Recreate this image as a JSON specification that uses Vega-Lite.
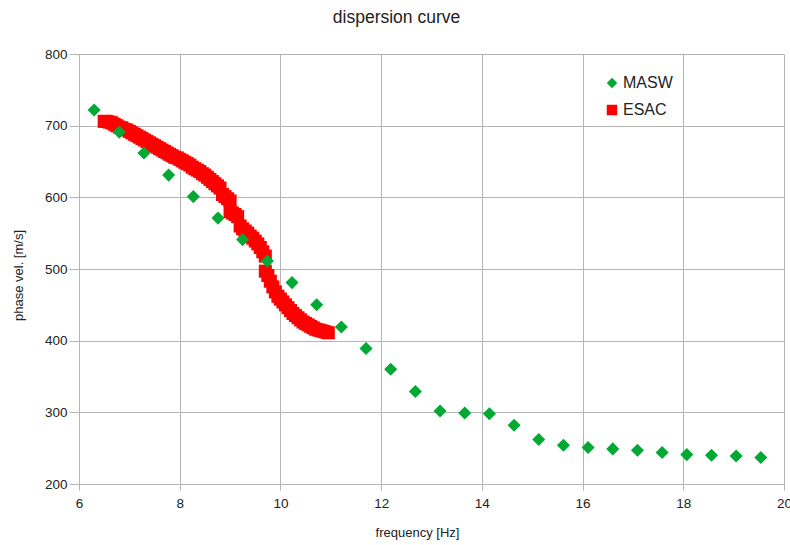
{
  "$schema": "https://vega.github.io/schema/vega-lite/v6.json",
  "width": 705,
  "height": 430,
  "autosize": {"type": "none"},
  "padding": {"left": 79, "top": 54, "right": 6, "bottom": 61},
  "background": "white",
  "title": {"text": "dispersion curve", "fontSize": 17.5, "font": "Liberation Sans", "fontWeight": "normal", "color": "#222222", "anchor": "middle", "dx": -35, "offset": 21},
  "config": {"view": {"stroke": null}, "font": "Liberation Sans"},
  "data": {"values": [
    {"method": "ESAC", "f": 6.50, "v": 706}, {"method": "ESAC", "f": 6.55, "v": 706}, {"method": "ESAC", "f": 6.60, "v": 705}, {"method": "ESAC", "f": 6.65, "v": 704},
    {"method": "ESAC", "f": 6.70, "v": 702}, {"method": "ESAC", "f": 6.75, "v": 700}, {"method": "ESAC", "f": 6.80, "v": 698}, {"method": "ESAC", "f": 6.85, "v": 697},
    {"method": "ESAC", "f": 6.90, "v": 695}, {"method": "ESAC", "f": 6.95, "v": 694}, {"method": "ESAC", "f": 7.00, "v": 692}, {"method": "ESAC", "f": 7.05, "v": 690},
    {"method": "ESAC", "f": 7.10, "v": 688}, {"method": "ESAC", "f": 7.15, "v": 686}, {"method": "ESAC", "f": 7.20, "v": 684}, {"method": "ESAC", "f": 7.25, "v": 682},
    {"method": "ESAC", "f": 7.30, "v": 680}, {"method": "ESAC", "f": 7.35, "v": 678}, {"method": "ESAC", "f": 7.40, "v": 676}, {"method": "ESAC", "f": 7.45, "v": 674},
    {"method": "ESAC", "f": 7.50, "v": 672}, {"method": "ESAC", "f": 7.55, "v": 670}, {"method": "ESAC", "f": 7.60, "v": 668}, {"method": "ESAC", "f": 7.65, "v": 666},
    {"method": "ESAC", "f": 7.70, "v": 664}, {"method": "ESAC", "f": 7.75, "v": 662}, {"method": "ESAC", "f": 7.80, "v": 660}, {"method": "ESAC", "f": 7.85, "v": 658},
    {"method": "ESAC", "f": 7.90, "v": 656}, {"method": "ESAC", "f": 7.95, "v": 655}, {"method": "ESAC", "f": 8.00, "v": 653}, {"method": "ESAC", "f": 8.05, "v": 651},
    {"method": "ESAC", "f": 8.10, "v": 649}, {"method": "ESAC", "f": 8.15, "v": 647}, {"method": "ESAC", "f": 8.20, "v": 645}, {"method": "ESAC", "f": 8.25, "v": 642},
    {"method": "ESAC", "f": 8.30, "v": 640}, {"method": "ESAC", "f": 8.35, "v": 638}, {"method": "ESAC", "f": 8.40, "v": 636}, {"method": "ESAC", "f": 8.45, "v": 633},
    {"method": "ESAC", "f": 8.50, "v": 631}, {"method": "ESAC", "f": 8.55, "v": 628}, {"method": "ESAC", "f": 8.60, "v": 625}, {"method": "ESAC", "f": 8.65, "v": 622},
    {"method": "ESAC", "f": 8.70, "v": 619}, {"method": "ESAC", "f": 8.75, "v": 616}, {"method": "ESAC", "f": 8.80, "v": 613}, {"method": "ESAC", "f": 8.85, "v": 604},
    {"method": "ESAC", "f": 8.90, "v": 601}, {"method": "ESAC", "f": 8.95, "v": 598}, {"method": "ESAC", "f": 9.00, "v": 595}, {"method": "ESAC", "f": 9.00, "v": 580},
    {"method": "ESAC", "f": 9.05, "v": 578}, {"method": "ESAC", "f": 9.10, "v": 576}, {"method": "ESAC", "f": 9.15, "v": 573}, {"method": "ESAC", "f": 9.20, "v": 560},
    {"method": "ESAC", "f": 9.25, "v": 556}, {"method": "ESAC", "f": 9.30, "v": 553}, {"method": "ESAC", "f": 9.35, "v": 550}, {"method": "ESAC", "f": 9.40, "v": 546},
    {"method": "ESAC", "f": 9.45, "v": 543}, {"method": "ESAC", "f": 9.50, "v": 539}, {"method": "ESAC", "f": 9.55, "v": 535}, {"method": "ESAC", "f": 9.60, "v": 530},
    {"method": "ESAC", "f": 9.65, "v": 524}, {"method": "ESAC", "f": 9.70, "v": 518}, {"method": "ESAC", "f": 9.70, "v": 497}, {"method": "ESAC", "f": 9.75, "v": 491},
    {"method": "ESAC", "f": 9.80, "v": 483}, {"method": "ESAC", "f": 9.85, "v": 475}, {"method": "ESAC", "f": 9.90, "v": 468}, {"method": "ESAC", "f": 9.95, "v": 462},
    {"method": "ESAC", "f": 10.00, "v": 458}, {"method": "ESAC", "f": 10.05, "v": 454}, {"method": "ESAC", "f": 10.10, "v": 450}, {"method": "ESAC", "f": 10.15, "v": 446},
    {"method": "ESAC", "f": 10.20, "v": 442}, {"method": "ESAC", "f": 10.25, "v": 438}, {"method": "ESAC", "f": 10.30, "v": 435}, {"method": "ESAC", "f": 10.35, "v": 432},
    {"method": "ESAC", "f": 10.40, "v": 429}, {"method": "ESAC", "f": 10.45, "v": 426}, {"method": "ESAC", "f": 10.50, "v": 424}, {"method": "ESAC", "f": 10.55, "v": 422},
    {"method": "ESAC", "f": 10.60, "v": 420}, {"method": "ESAC", "f": 10.65, "v": 418}, {"method": "ESAC", "f": 10.70, "v": 416}, {"method": "ESAC", "f": 10.75, "v": 415},
    {"method": "ESAC", "f": 10.80, "v": 414}, {"method": "ESAC", "f": 10.85, "v": 413}, {"method": "ESAC", "f": 10.90, "v": 412}, {"method": "ESAC", "f": 10.95, "v": 411},
    {"method": "MASW", "f": 6.30, "v": 722}, {"method": "MASW", "f": 6.80, "v": 691}, {"method": "MASW", "f": 7.29, "v": 662}, {"method": "MASW", "f": 7.78, "v": 631},
    {"method": "MASW", "f": 8.27, "v": 601}, {"method": "MASW", "f": 8.76, "v": 571}, {"method": "MASW", "f": 9.25, "v": 541}, {"method": "MASW", "f": 9.74, "v": 511},
    {"method": "MASW", "f": 10.23, "v": 481}, {"method": "MASW", "f": 10.72, "v": 450}, {"method": "MASW", "f": 11.21, "v": 419}, {"method": "MASW", "f": 11.70, "v": 389},
    {"method": "MASW", "f": 12.19, "v": 360}, {"method": "MASW", "f": 12.68, "v": 329}, {"method": "MASW", "f": 13.17, "v": 302}, {"method": "MASW", "f": 13.66, "v": 299},
    {"method": "MASW", "f": 14.15, "v": 298}, {"method": "MASW", "f": 14.64, "v": 282}, {"method": "MASW", "f": 15.13, "v": 262}, {"method": "MASW", "f": 15.62, "v": 254},
    {"method": "MASW", "f": 16.11, "v": 251}, {"method": "MASW", "f": 16.60, "v": 249}, {"method": "MASW", "f": 17.09, "v": 247}, {"method": "MASW", "f": 17.58, "v": 244},
    {"method": "MASW", "f": 18.07, "v": 241}, {"method": "MASW", "f": 18.56, "v": 240}, {"method": "MASW", "f": 19.05, "v": 239}, {"method": "MASW", "f": 19.54, "v": 237}
  ]},
  "mark": {"type": "point", "filled": true, "opacity": 1, "strokeWidth": 0, "size": 170},
  "encoding": {
    "x": {"field": "f", "type": "quantitative", "scale": {"domain": [6, 20], "nice": false, "zero": false},
      "axis": {"title": "frequency [Hz]", "values": [6, 8, 10, 12, 14, 16, 18, 20], "grid": true, "gridColor": "#b3b3b3", "domainColor": "#b3b3b3", "tickColor": "#b3b3b3", "tickSize": 6,
        "labelFontSize": 13.5, "labelColor": "#222222", "labelPadding": 6, "labelFlush": false, "titleFontSize": 13, "titleFontWeight": "normal", "titleColor": "#222222", "titleX": 338, "titleY": 42}},
    "y": {"field": "v", "type": "quantitative", "scale": {"domain": [200, 800], "nice": false, "zero": false},
      "axis": {"title": "phase vel. [m/s]", "values": [200, 300, 400, 500, 600, 700, 800], "grid": true, "gridColor": "#b3b3b3", "domainColor": "#b3b3b3", "tickColor": "#b3b3b3", "tickSize": 10,
        "labelFontSize": 13.5, "labelColor": "#222222", "labelPadding": 2, "labelFlush": false, "titleFontSize": 13, "titleFontWeight": "normal", "titleColor": "#222222", "titleX": -61, "titleY": 221, "titleBaseline": "middle"}},
    "color": {"field": "method", "type": "nominal", "scale": {"domain": ["MASW", "ESAC"], "range": ["#00a933", "#ff0000"]},
      "legend": {"title": null, "orient": "none", "legendX": 525, "legendY": 21, "labelFontSize": 16, "labelColor": "#222222", "symbolSize": 110, "rowPadding": 11, "padding": 0, "labelOffset": 3}},
    "shape": {"field": "method", "type": "nominal", "scale": {"domain": ["MASW", "ESAC"], "range": ["diamond", "square"]}}
  }
}
